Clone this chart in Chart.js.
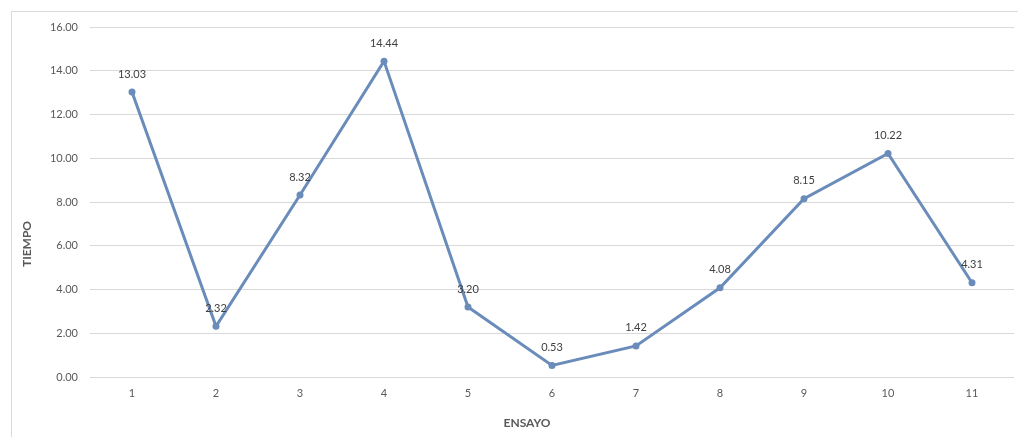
<!DOCTYPE html>
<html><head><meta charset="utf-8">
<script src="https://cdn.jsdelivr.net/npm/chart.js@4.4.0/dist/chart.umd.min.js"></script>
<style>
html,body{margin:0;padding:0;background:#fff;}
#wrap{position:absolute;left:0;top:0;width:1018px;height:437px;}
#frame{position:absolute;left:11px;top:11px;width:1020px;height:440px;border:1px solid #d9d9d9;box-sizing:border-box;}
canvas{position:absolute;left:0;top:0;}
</style></head>
<body><div id="wrap"><div id="frame"></div><canvas id="c" width="1018" height="437"></canvas></div>
<script>
const categories = ['1','2','3','4','5','6','7','8','9','10','11'];
const tiempo = [13.03, 2.32, 8.32, 14.44, 3.20, 0.53, 1.42, 4.08, 8.15, 10.22, 4.31];
const yTicks = [0, 2, 4, 6, 8, 10, 12, 14, 16];
const xTitle = 'ENSAYO';
const yTitle = 'TIEMPO';

const FONT = 'Lato, "Liberation Sans", sans-serif';
const lineColor = 'rgb(106,140,186)';

const labelPlugin = {
  id: 'pointLabels',
  afterDatasetsDraw(chart) {
    const ctx = chart.ctx;
    const meta = chart.getDatasetMeta(0);
    ctx.save();
    ctx.font = '11px ' + FONT;
    ctx.fillStyle = '#404040';
    ctx.textAlign = 'center';
    ctx.textBaseline = 'middle';
    meta.data.forEach((pt, i) => {
      ctx.fillText(tiempo[i].toFixed(2), pt.x, pt.y - 18);
    });
    // axis titles
    ctx.font = 'bold 12px ' + FONT;
    ctx.fillStyle = '#595959';
    ctx.fillText(xTitle, 527, 423);
    ctx.translate(27, 244);
    ctx.rotate(-Math.PI / 2);
    ctx.fillText(yTitle, 0, 0);
    ctx.restore();
  }
};

new Chart(document.getElementById('c'), {
  type: 'line',
  data: {
    labels: categories,
    datasets: [{
      data: tiempo,
      borderColor: lineColor,
      backgroundColor: lineColor,
      borderWidth: 3,
      pointRadius: 3.5,
      pointBorderWidth: 0,
      pointBackgroundColor: lineColor,
      tension: 0
    }]
  },
  options: {
    responsive: false,
    animation: false,
    devicePixelRatio: 1,
    layout: { padding: { top: 27, right: 4, left: 0, bottom: 0 } },
    plugins: { legend: { display: false }, tooltip: { enabled: false } },
    scales: {
      x: {
        offset: true,
        grid: { display: false, drawTicks: false },
        border: { display: false },
        ticks: { color: '#595959', font: { family: FONT, size: 11 }, padding: 10 },
        afterFit(s) { s.height = 60; }
      },
      y: {
        min: 0, max: 16,
        afterBuildTicks(s) { s.ticks = yTicks.map(v => ({ value: v })); },
        grid: { color: '#d9d9d9', lineWidth: 1, drawTicks: false },
        border: { display: false },
        ticks: { color: '#595959', font: { family: FONT, size: 11 }, padding: 12,
                 callback: v => Number(v).toFixed(2) },
        afterFit(s) { s.width = 90; }
      }
    }
  },
  plugins: [labelPlugin]
});
</script></body></html>
